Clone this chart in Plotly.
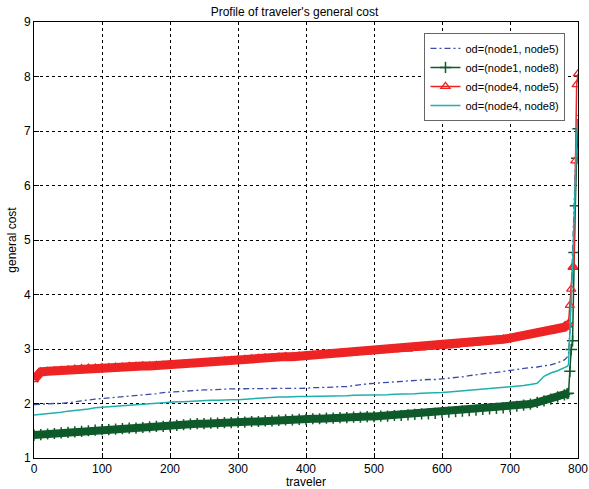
import plotly.graph_objects as go

travelers = list(range(0, 790, 10)) + [784, 786, 788, 790, 792, 794, 796, 798, 800]

od15 = [1.98, 1.99, 1.99, 2.00, 2.00, 2.01, 2.03, 2.05, 2.07, 2.08,
        2.09, 2.10, 2.11, 2.12, 2.13, 2.15, 2.16, 2.17, 2.18, 2.20,
        2.21, 2.22, 2.23, 2.23, 2.24, 2.25, 2.25, 2.26, 2.26, 2.27,
        2.27, 2.27, 2.27, 2.27, 2.28, 2.28, 2.28, 2.28, 2.28, 2.28,
        2.28, 2.29, 2.29, 2.30, 2.30, 2.31, 2.31, 2.33, 2.35, 2.36,
        2.37, 2.38, 2.39, 2.40, 2.41, 2.42, 2.43, 2.43, 2.44, 2.44,
        2.45, 2.46, 2.47, 2.49, 2.51, 2.53, 2.54, 2.56, 2.57, 2.59,
        2.61, 2.62, 2.64, 2.66, 2.67, 2.69, 2.71, 2.75, 2.80,
        2.85, 2.90, 3.30, 4.00, 4.60, 5.50, 6.30, 7.00, 7.30]

od18 = [1.42, 1.43, 1.44, 1.45, 1.46, 1.47, 1.48, 1.49, 1.50, 1.51,
        1.52, 1.52, 1.53, 1.54, 1.55, 1.55, 1.56, 1.57, 1.58, 1.58,
        1.59, 1.60, 1.61, 1.62, 1.63, 1.63, 1.64, 1.64, 1.65, 1.65,
        1.66, 1.66, 1.67, 1.67, 1.68, 1.68, 1.69, 1.70, 1.70, 1.71,
        1.71, 1.72, 1.72, 1.73, 1.73, 1.74, 1.74, 1.75, 1.75, 1.76,
        1.76, 1.77, 1.77, 1.78, 1.78, 1.79, 1.80, 1.81, 1.81, 1.82,
        1.83, 1.84, 1.85, 1.86, 1.87, 1.88, 1.89, 1.90, 1.91, 1.92,
        1.94, 1.95, 1.97, 1.99, 2.02, 2.05, 2.08, 2.12, 2.16,
        2.18, 2.19, 2.59, 2.99, 3.15, 4.77, 5.63, 6.50, 7.04]

od45 = [2.44, 2.58, 2.59, 2.60, 2.61, 2.62, 2.63, 2.64, 2.65, 2.65,
        2.66, 2.66, 2.67, 2.67, 2.68, 2.68, 2.69, 2.69, 2.70, 2.70,
        2.71, 2.71, 2.72, 2.72, 2.73, 2.75, 2.76, 2.77, 2.78, 2.79,
        2.80, 2.81, 2.82, 2.83, 2.84, 2.84, 2.85, 2.86, 2.86, 2.87,
        2.88, 2.89, 2.89, 2.90, 2.91, 2.92, 2.92, 2.93, 2.94, 2.95,
        2.96, 2.97, 2.98, 2.99, 3.00, 3.00, 3.01, 3.02, 3.03, 3.04,
        3.05, 3.06, 3.07, 3.09, 3.10, 3.11, 3.13, 3.14, 3.16, 3.18,
        3.20, 3.22, 3.24, 3.26, 3.29, 3.31, 3.33, 3.36, 3.40,
        3.44, 3.47, 3.80, 4.10, 4.50, 4.50, 6.45, 7.85, 8.05]

od48 = [1.79, 1.80, 1.81, 1.83, 1.84, 1.86, 1.87, 1.89, 1.90, 1.92,
        1.93, 1.94, 1.95, 1.96, 1.97, 1.98, 1.99, 2.00, 2.01, 2.01,
        2.02, 2.03, 2.03, 2.04, 2.05, 2.05, 2.06, 2.06, 2.07, 2.07,
        2.07, 2.08, 2.09, 2.10, 2.11, 2.12, 2.12, 2.12, 2.13, 2.13,
        2.13, 2.13, 2.14, 2.14, 2.14, 2.14, 2.14, 2.15, 2.15, 2.15,
        2.15, 2.16, 2.16, 2.17, 2.17, 2.18, 2.18, 2.19, 2.19, 2.20,
        2.20, 2.21, 2.22, 2.23, 2.24, 2.25, 2.26, 2.27, 2.28, 2.29,
        2.30, 2.32, 2.33, 2.35, 2.37, 2.50, 2.56, 2.60, 2.65,
        2.68, 2.71, 3.20, 3.90, 4.50, 5.30, 6.20, 6.90, 7.22]

x_ticks = [0, 100, 200, 300, 400, 500, 600, 700, 800]
y_ticks = [1, 2, 3, 4, 5, 6, 7, 8, 9]

FONT = "Liberation Sans, Arial, sans-serif"
BLUE, GREEN, RED, CYAN = "#3a4ba8", "#0f5a2a", "#ee2424", "#1fb0ae"
N_BODY = 81  # points before the final spike

fig = go.Figure()
# dense marker bands (markers drawn at every traveler in the original)
fig.add_trace(go.Scatter(
    x=travelers[:N_BODY], y=od18[:N_BODY], mode="lines", showlegend=False,
    hoverinfo="skip", line=dict(color=GREEN, width=8)))
fig.add_trace(go.Scatter(
    x=travelers[:N_BODY], y=od45[:N_BODY], mode="lines", showlegend=False,
    hoverinfo="skip", line=dict(color=RED, width=9)))

fig.add_trace(go.Scatter(
    x=travelers, y=od15, name="od=(node1, node5)", mode="lines",
    line=dict(color=BLUE, width=1.3, dash="6px,3px,2px,3px")))
fig.add_trace(go.Scatter(
    x=travelers, y=od18, name="od=(node1, node8)", mode="lines+markers",
    line=dict(color=GREEN, width=1.5),
    marker=dict(symbol="cross-thin", size=8, color=GREEN,
                line=dict(color=GREEN, width=1.5))))
fig.add_trace(go.Scatter(
    x=travelers, y=od45, name="od=(node4, node5)", mode="lines+markers",
    line=dict(color=RED, width=1.5),
    marker=dict(symbol="triangle-up-open", size=8, color=RED,
                line=dict(color=RED, width=1.3))))
fig.add_trace(go.Scatter(
    x=travelers, y=od48, name="od=(node4, node8)", mode="lines",
    line=dict(color=CYAN, width=1.5)))

axis_common = dict(
    showline=True, linecolor="black", linewidth=1, mirror=True,
    ticks="inside", ticklen=5, tickcolor="black",
    showgrid=True, gridcolor="black", gridwidth=1, griddash="3px,3px",
    zeroline=False, automargin=False,
    tickfont=dict(size=12, color="black", family=FONT),
)

fig.update_xaxes(range=[0, 800], tickvals=x_ticks,
                 title=dict(text="traveler", font=dict(size=12, family=FONT, color="black"), standoff=2),
                 **axis_common)
fig.update_yaxes(range=[1, 9], tickvals=y_ticks,
                 title=dict(text="general cost", font=dict(size=12, family=FONT, color="black"), standoff=4),
                 **axis_common)

fig.update_layout(
    width=589, height=489,
    margin=dict(l=34, r=11, t=22, b=31),
    paper_bgcolor="white", plot_bgcolor="white",
    font=dict(family=FONT, size=12, color="black"),
    title=dict(text="Profile of traveler's general cost", x=0.5, xanchor="center",
               y=0.975, yanchor="middle", font=dict(size=12, family=FONT, color="black")),
    legend=dict(x=0.977, y=0.975, xanchor="right", yanchor="top",
                bgcolor="white", bordercolor="#666666", borderwidth=1,
                font=dict(size=11, family=FONT, color="black"),
                tracegroupgap=0, itemwidth=30),
    showlegend=True,
)

fig.write_html("out.html", config={"displayModeBar": False},
               post_script="document.body.style.margin='0';document.body.style.overflow='hidden';")
